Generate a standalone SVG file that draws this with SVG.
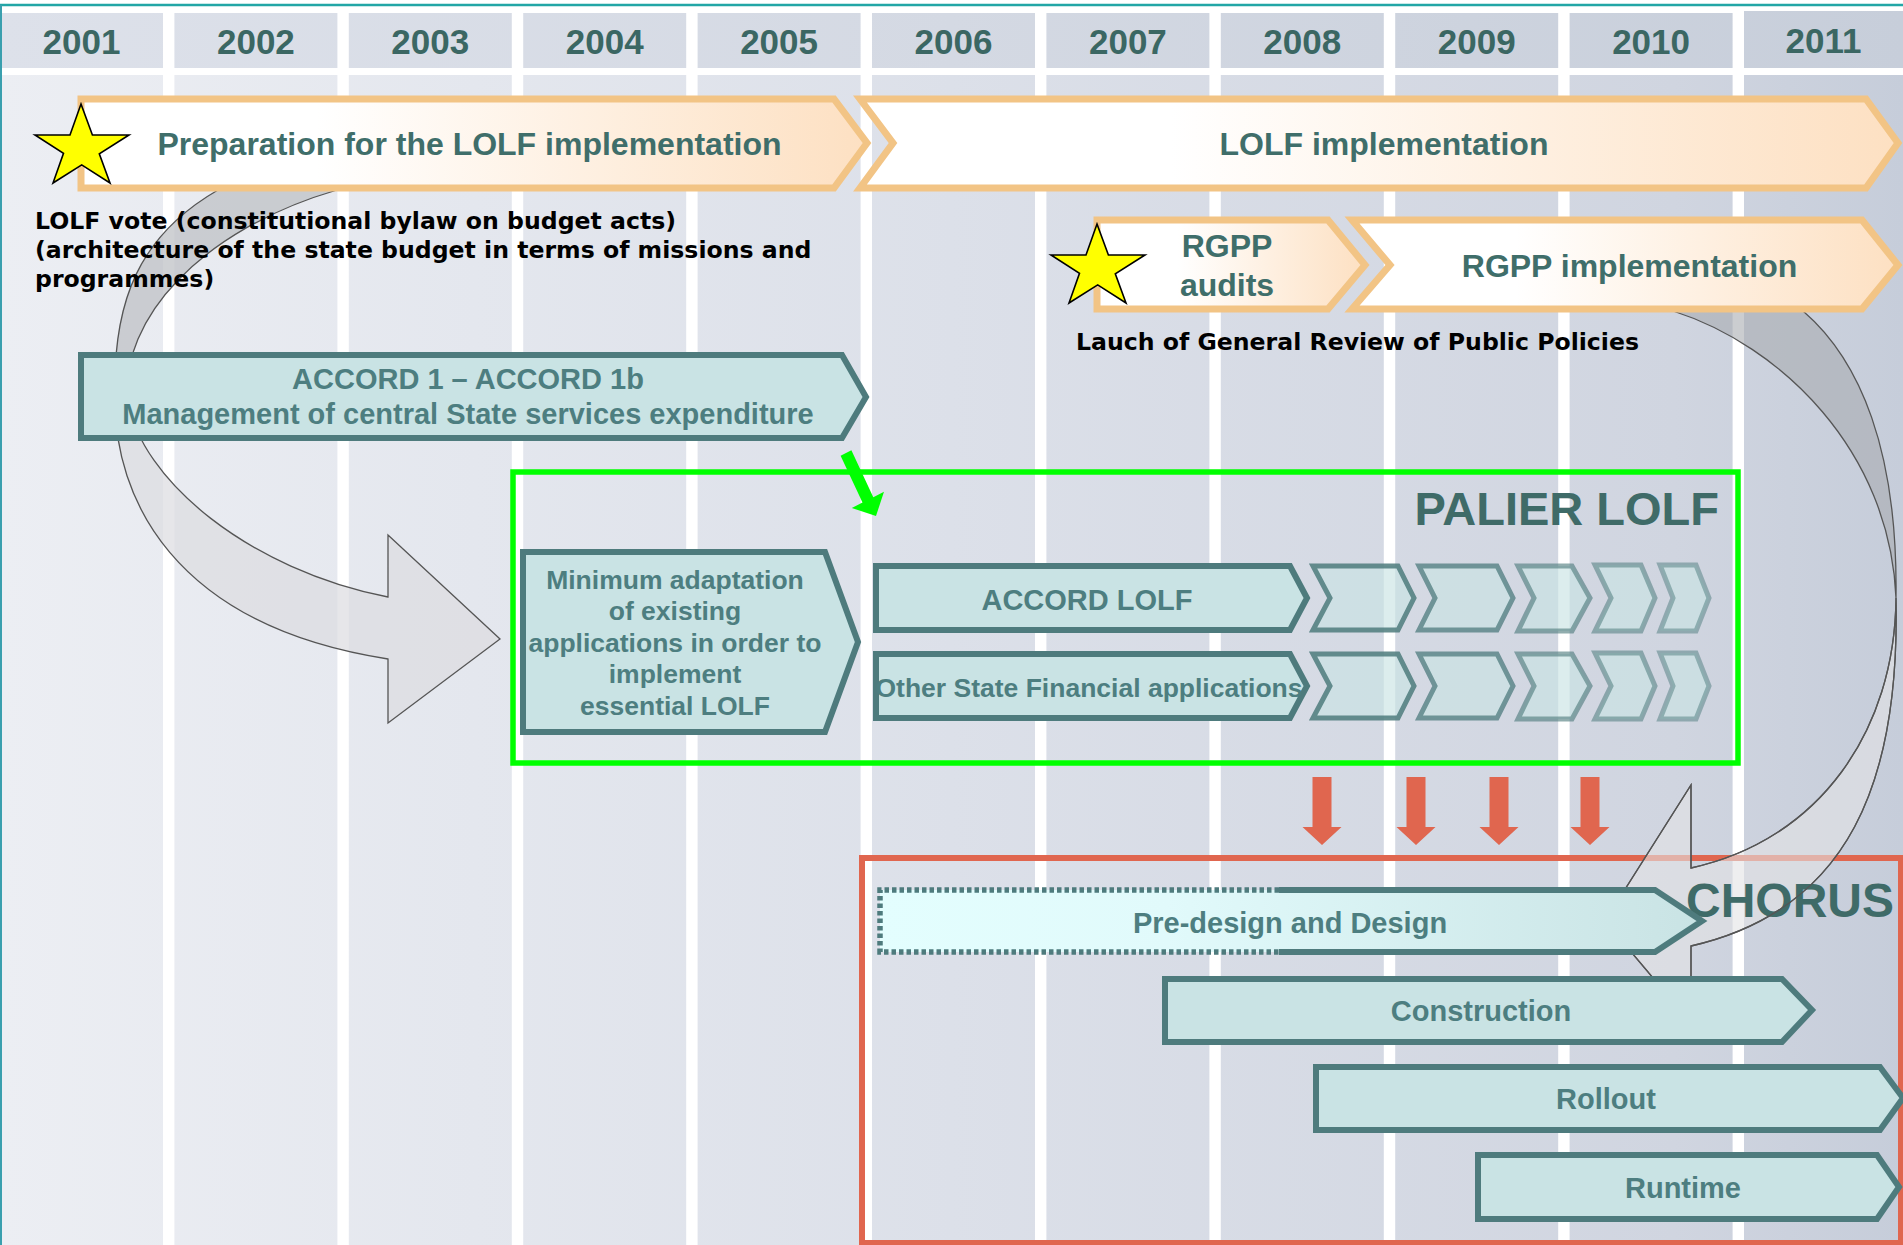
<svg xmlns="http://www.w3.org/2000/svg" width="1903" height="1245" viewBox="0 0 1903 1245">
<style>
.yr{font-family:"Liberation Sans",Arial,sans-serif;font-weight:bold;font-size:35px;fill:#3B6763;text-anchor:middle}
.ot{font-family:"Liberation Sans",Arial,sans-serif;font-weight:bold;font-size:32px;fill:#3F6E6A;text-anchor:middle}
.bt{font-family:"Liberation Sans",Arial,sans-serif;font-weight:bold;font-size:29px;fill:#4D7E80;text-anchor:middle}
.bs{font-size:26.5px}
.big{font-family:"Liberation Sans",Arial,sans-serif;font-weight:bold;font-size:47px;fill:#3F6B68;text-anchor:end}
.blk{font-family:"DejaVu Sans",Verdana,sans-serif;font-weight:bold;font-size:23.6px;fill:#000}
.col{fill:url(#bodyG)}
.hd{fill:url(#headG)}
.orng{fill:url(#og);stroke:#F2C485;stroke-width:7}
.bx{fill:#C9E3E4;stroke:#4E7B7D;stroke-width:6}
.chev{fill:#C9E3E4;fill-opacity:0.65;stroke:#4E7B7D;stroke-width:5}
.red{fill:#E0664F}
.band{stroke:#555;stroke-width:1.3}
</style>
<defs>
<linearGradient id="bodyG" gradientUnits="userSpaceOnUse" x1="0" y1="0" x2="1903" y2="0">
<stop offset="0" stop-color="#ECEEF3"/><stop offset="0.5" stop-color="#DCE0E9"/><stop offset="0.88" stop-color="#D0D5E0"/><stop offset="1" stop-color="#C6CDDA"/>
</linearGradient>
<linearGradient id="headG" gradientUnits="userSpaceOnUse" x1="0" y1="0" x2="1903" y2="0">
<stop offset="0" stop-color="#DDE1EA"/><stop offset="0.5" stop-color="#D4D9E3"/><stop offset="1" stop-color="#C7CEDA"/>
</linearGradient>
<linearGradient id="og" x1="0" y1="0" x2="1" y2="0">
<stop offset="0" stop-color="#FFFFFF"/><stop offset="0.3" stop-color="#FFFFFF"/><stop offset="1" stop-color="#FDE0C2"/>
</linearGradient>
<linearGradient id="pg" x1="0" y1="0" x2="1" y2="0">
<stop offset="0" stop-color="#E3FEFE"/><stop offset="0.35" stop-color="#E1FAFB"/><stop offset="1" stop-color="#C9E3E4"/>
</linearGradient>
<polygon id="star" points="81,104 92.4,135 129,135 99.3,153.8 110,183 81.7,164.9 53,183 63.5,153.3 35,135 70,135" fill="#FFFF00" stroke="#000" stroke-width="1.6"/>
</defs>

<rect x="0" y="0" width="1903" height="1245" fill="#FFFFFF"/>

<g id="timeline">
<rect class="hd" x="0" y="13" width="163" height="55"/><rect class="col" x="0" y="75" width="163" height="1170"/>
<rect class="hd" x="174.4" y="13" width="163" height="55"/><rect class="col" x="174.4" y="75" width="163" height="1170"/>
<rect class="hd" x="348.8" y="13" width="163" height="55"/><rect class="col" x="348.8" y="75" width="163" height="1170"/>
<rect class="hd" x="523.2" y="13" width="163" height="55"/><rect class="col" x="523.2" y="75" width="163" height="1170"/>
<rect class="hd" x="697.6" y="13" width="163" height="55"/><rect class="col" x="697.6" y="75" width="163" height="1170"/>
<rect class="hd" x="872" y="13" width="163" height="55"/><rect class="col" x="872" y="75" width="163" height="1170"/>
<rect class="hd" x="1046.4" y="13" width="163" height="55"/><rect class="col" x="1046.4" y="75" width="163" height="1170"/>
<rect class="hd" x="1220.8" y="13" width="163" height="55"/><rect class="col" x="1220.8" y="75" width="163" height="1170"/>
<rect class="hd" x="1395.2" y="13" width="163" height="55"/><rect class="col" x="1395.2" y="75" width="163" height="1170"/>
<rect class="hd" x="1569.6" y="13" width="163" height="55"/><rect class="col" x="1569.6" y="75" width="163" height="1170"/>
<rect class="hd" x="1744" y="11" width="159" height="57"/><rect class="col" x="1744" y="75" width="159" height="1170"/>
<text class="yr" x="81.5" y="54">2001</text>
<text class="yr" x="255.9" y="54">2002</text>
<text class="yr" x="430.3" y="54">2003</text>
<text class="yr" x="604.7" y="54">2004</text>
<text class="yr" x="779.1" y="54">2005</text>
<text class="yr" x="953.5" y="54">2006</text>
<text class="yr" x="1127.9" y="54">2007</text>
<text class="yr" x="1302.3" y="54">2008</text>
<text class="yr" x="1476.7" y="54">2009</text>
<text class="yr" x="1651.1" y="54">2010</text>
<text class="yr" x="1823.5" y="53">2011</text>
<line x1="0" y1="5" x2="1903" y2="5" stroke="#22A6A6" stroke-width="2.5"/>
<line x1="1" y1="5" x2="1" y2="1245" stroke="#3A9FAE" stroke-width="2"/>
</g>

<g id="chorus-frame">
<rect x="862" y="858" width="1039" height="385" fill="none" stroke="#E0664F" stroke-width="6"/>
</g>

<g id="connectors">
<path class="band" fill="#BFC1C6" fill-opacity="0.75" d="M 218,190 C 140,235 112,300 115,400 L 128,400 C 120,320 200,230 337,190 Z"/>
<path class="band" fill="#DCDDE0" fill-opacity="0.72" d="M 115,400 C 115,495 170,625 388,659 L 388,723 L 500,639 L 388,535 L 388,597 C 250,570 140,480 128,400 Z"/>
<path class="band" fill="#A9ABB1" fill-opacity="0.6" d="M 1673,311 C 1780,345 1890,450 1896,598 C 1898,450 1860,360 1803,311 Z"/>
<path class="band" fill="#E3E3E5" fill-opacity="0.6" d="M 1896,598 C 1900,780 1850,910 1691,946 L 1691,1023 L 1605,921 L 1691,785 L 1691,868 C 1820,840 1895,730 1896,598 Z"/>
<text class="big" x="1894" y="917" style="font-size:48px">CHORUS</text>
<path class="band" fill="none" d="M 1896,598 C 1900,780 1850,910 1691,946 L 1691,1023 L 1605,921 L 1691,785 L 1691,868 C 1820,840 1895,730 1896,598 Z"/>
<polygon fill="#00FF00" points="851.4,450.3 873.3,497.2 884,491.8 876,516 851.8,508 862.5,502.6 840.6,455.7"/>
<polygon class="red" points="1312.5,777 1331.5,777 1331.5,827 1341.5,827 1322,845 1302.5,827 1312.5,827"/>
<polygon class="red" points="1406.5,777 1425.5,777 1425.5,827 1435.5,827 1416,845 1396.5,827 1406.5,827"/>
<polygon class="red" points="1489.5,777 1508.5,777 1508.5,827 1518.5,827 1499,845 1479.5,827 1489.5,827"/>
<polygon class="red" points="1580.5,777 1599.5,777 1599.5,827 1609.5,827 1590,845 1570.5,827 1580.5,827"/>
</g>

<g id="prep">
<path class="orng" d="M 81,99 L 834,99 L 867,143 L 834,188 L 81,188 Z"/>
<text class="ot" x="469.5" y="155">Preparation for the LOLF implementation</text>
</g>
<g id="lolf-impl">
<path class="orng" d="M 860,99 L 1866,99 L 1898,143 L 1866,188 L 860,188 L 893,143 Z"/>
<text class="ot" x="1384" y="155">LOLF implementation</text>
</g>
<g id="rgpp-audits">
<path class="orng" stroke-width="6" d="M 1097,220 L 1328,220 L 1365,265 L 1328,309 L 1097,309 Z"/>
<text class="ot" x="1227" y="257">RGPP</text>
<text class="ot" x="1227" y="296">audits</text>
</g>
<g id="rgpp-impl">
<path class="orng" stroke-width="6" d="M 1352,220 L 1862,220 L 1898,265 L 1862,309 L 1352,309 L 1390,265 Z"/>
<text class="ot" x="1629.5" y="277">RGPP implementation</text>
</g>
<g id="star-lolf"><use href="#star"/></g>
<g id="star-rgpp"><use href="#star" transform="translate(1016,120)"/></g>
<g id="lolf-vote">
<text class="blk" x="35" y="229">LOLF vote (constitutional bylaw on budget acts)</text>
<text class="blk" x="35" y="258">(architecture of the state budget in terms of missions and</text>
<text class="blk" x="35" y="287">programmes)</text>
</g>
<g id="rgpp-launch">
<text class="blk" x="1076" y="350">Lauch of General Review of Public Policies</text>
</g>

<g id="accord1">
<path class="bx" d="M 81,355 L 842,355 L 866,397 L 842,438 L 81,438 Z"/>
<text class="bt" x="468" y="389">ACCORD 1 – ACCORD 1b</text>
<text class="bt" x="468" y="424">Management of central State services expenditure</text>
</g>

<g id="palier-lolf">
<rect x="513" y="472" width="1225" height="291" fill="none" stroke="#00FF00" stroke-width="5.5"/>
<text class="big" x="1719" y="525">PALIER LOLF</text>
</g>
<g id="min-adapt">
<path class="bx" d="M 523,552 L 825,552 L 858,642 L 825,732 L 523,732 Z"/>
<text class="bt bs" x="675" y="588.5">Minimum adaptation</text>
<text class="bt bs" x="675" y="620.1">of existing</text>
<text class="bt bs" x="675" y="651.7">applications in order to</text>
<text class="bt bs" x="675" y="683.3">implement</text>
<text class="bt bs" x="675" y="714.9">essential LOLF</text>
</g>
<g id="accord-lolf">
<path class="bx" d="M 876,566 L 1290,566 L 1307,598 L 1290,630 L 876,630 Z"/>
<text class="bt" x="1087" y="610">ACCORD LOLF</text>
<path class="chev" stroke-opacity="0.85" d="M 1313,566 L 1398,566 L 1414,598 L 1398,630 L 1313,630 L 1330,598 Z"/>
<path class="chev" stroke-opacity="0.75" d="M 1419,566 L 1497,566 L 1513,598 L 1497,630 L 1419,630 L 1435,598 Z"/>
<path class="chev" stroke-opacity="0.62" d="M 1518,566 L 1572,566 L 1590,598 L 1572,631 L 1518,631 L 1534,598 Z"/>
<path class="chev" stroke-opacity="0.55" d="M 1595,565 L 1641,565 L 1655,598 L 1641,631 L 1595,631 L 1611,598 Z"/>
<path class="chev" stroke-opacity="0.5" d="M 1660,565 L 1696,565 L 1709,598 L 1696,631 L 1660,631 L 1673,598 Z"/>
</g>
<g id="other-state">
<path class="bx" d="M 876,654 L 1290,654 L 1307,686 L 1290,718 L 876,718 Z"/>
<text class="bt bs" x="1089" y="697">Other State Financial applications</text>
<path class="chev" stroke-opacity="0.85" d="M 1313,654 L 1398,654 L 1414,686 L 1398,718 L 1313,718 L 1330,686 Z"/>
<path class="chev" stroke-opacity="0.75" d="M 1419,654 L 1497,654 L 1513,686 L 1497,718 L 1419,718 L 1435,686 Z"/>
<path class="chev" stroke-opacity="0.62" d="M 1518,654 L 1572,654 L 1590,686 L 1572,719 L 1518,719 L 1534,686 Z"/>
<path class="chev" stroke-opacity="0.55" d="M 1595,653 L 1641,653 L 1655,686 L 1641,719 L 1595,719 L 1611,686 Z"/>
<path class="chev" stroke-opacity="0.5" d="M 1660,653 L 1696,653 L 1709,686 L 1696,719 L 1660,719 L 1673,686 Z"/>
</g>

<g id="predesign">
<path d="M 880,890 L 1655,890 L 1702,921 L 1655,952 L 880,952 Z" fill="url(#pg)"/>
<path d="M 1279,890 L 1655,890 L 1702,921 L 1655,952 L 1279,952" fill="none" stroke="#4E7B7D" stroke-width="6"/>
<path d="M 1279,890 L 880,890 L 880,952 L 1279,952" fill="none" stroke="#4E7B7D" stroke-width="5.5" stroke-dasharray="4.5 3"/>
<text class="bt" x="1290" y="933">Pre-design and Design</text>
</g>
<g id="construction">
<path class="bx" d="M 1165,979 L 1782,979 L 1812,1010 L 1782,1042 L 1165,1042 Z"/>
<text class="bt" x="1481" y="1021">Construction</text>
</g>
<g id="rollout">
<path class="bx" d="M 1316,1067 L 1880,1067 L 1903,1098 L 1880,1130 L 1316,1130 Z"/>
<text class="bt" x="1606" y="1109">Rollout</text>
</g>
<g id="runtime">
<path class="bx" d="M 1478,1155 L 1877,1155 L 1899,1187 L 1877,1219 L 1478,1219 Z"/>
<text class="bt" x="1683" y="1198">Runtime</text>
</g>
</svg>
